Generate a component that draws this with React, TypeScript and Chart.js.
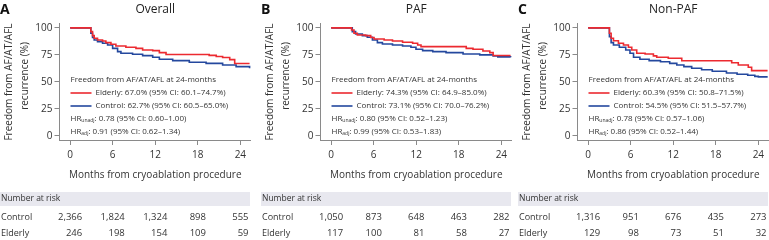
import React, { useEffect, useRef } from 'react';
import { Chart, registerables } from 'chart.js';

Chart.register(...registerables);

// ---------- data ----------
const panelLetters = ['A', 'B', 'C'];
const panelTitles = ['Overall', 'PAF', 'Non-PAF'];
const xTicks = [0, 6, 12, 18, 24];
const yTicks = [0, 25, 50, 75, 100];

// Overall
const overallElderlyT = [0, 2.7, 2.92, 3.16, 3.39, 3.86, 4.57, 5.04, 5.75, 6.45, 7.86, 9.28, 10.22, 11.64, 12.58, 13.52, 19.6, 20.6, 21.5, 22.5, 23.2, 25.3];
const overallElderlyS = [100, 100, 96.5, 92.8, 90.3, 88.8, 87.8, 86.3, 84.8, 83.2, 82, 81, 79.5, 78.9, 77, 75.3, 74.5, 73.5, 72.5, 70.5, 67.0, 67.0];
const overallControlT = [0, 2.7, 2.92, 3.16, 3.39, 3.86, 4.57, 5.28, 5.99, 6.69, 7.16, 8.8, 10.22, 11.64, 12.58, 14.46, 16.8, 19.17, 21.5, 23.4, 25.3];
const overallControlS = [100, 100, 95, 91, 88.8, 87.2, 85.7, 84.1, 81, 78, 76.4, 75.5, 74.2, 72.7, 70.9, 69.6, 68.1, 67.1, 65.6, 64, 62.5];

// PAF
const pafElderlyT = [0, 2.51, 2.88, 3.22, 3.69, 4.87, 5.58, 6.05, 7.47, 8.65, 10.07, 11.49, 12.2, 12.67, 19.05, 20.0, 21.4, 22.37, 22.84, 25.3];
const pafElderlyS = [100, 100, 98, 95, 93.4, 92.8, 91, 89.7, 88.8, 87.8, 86.6, 85.7, 84.1, 82.6, 81, 80.1, 78.6, 77, 74.3, 74.3];
const pafControlT = [0, 2.51, 2.98, 3.45, 4.4, 5.1, 5.82, 6.52, 7.23, 8.65, 10.07, 11.25, 11.96, 12.9, 14.33, 16.2, 18.6, 20.95, 22.84, 23.5, 25.3];
const pafControlS = [100, 100, 96.5, 94.3, 92.8, 91.3, 88.8, 86.3, 85, 84.1, 83.2, 82, 80.1, 78.9, 78, 77, 75.8, 74.9, 74, 73.1, 72.7];

// Non-PAF
const nonPafElderlyT = [0, 2.77, 3.0, 3.24, 3.57, 4.27, 4.98, 5.68, 6.15, 6.85, 8.03, 9.2, 9.67, 11.3, 13.2, 20.24, 21.17, 22.58, 23.05, 25.3];
const nonPafElderlyS = [100, 100, 95, 90.3, 88.1, 85.7, 84.1, 82, 79.5, 76.4, 75.8, 74, 72.7, 71.8, 69.5, 67.7, 65.6, 63.4, 60.3, 60.3];
const nonPafControlT = [0, 2.77, 3.0, 3.24, 3.57, 4.4, 5.3, 5.9, 6.4, 7.3, 8.6, 10.2, 11.5, 12.5, 13.5, 14.6, 16, 17.5, 19.5, 21, 22.5, 23.5, 24, 25.2];
const nonPafControlS = [100, 100, 91.9, 86.3, 84.1, 82, 79.5, 76.4, 72.7, 70.9, 69.6, 68.6, 67.1, 65.5, 64.0, 62.5, 61.2, 59.8, 58.2, 57.0, 56.0, 55.0, 54.5, 53.8];

const elderlyT = [overallElderlyT, pafElderlyT, nonPafElderlyT];
const elderlyS = [overallElderlyS, pafElderlyS, nonPafElderlyS];
const controlT = [overallControlT, pafControlT, nonPafControlT];
const controlS = [overallControlS, pafControlS, nonPafControlS];

const legendHeader = 'Freedom from AF/AT/AFL at 24-months';
const elderlyStat = ['67.0% (95% CI: 60.1–74.7%)', '74.3% (95% CI: 64.9–85.0%)', '60.3% (95% CI: 50.8–71.5%)'];
const controlStat = ['62.7% (95% CI: 60.5–65.0%)', '73.1% (95% CI: 70.0–76.2%)', '54.5% (95% CI: 51.5–57.7%)'];
const hrUnadj = ['0.78 (95% CI: 0.60–1.00)', '0.80 (95% CI: 0.52–1.23)', '0.78 (95% CI: 0.57–1.06)'];
const hrAdj = ['0.91 (95% CI: 0.62–1.34)', '0.99 (95% CI: 0.53–1.83)', '0.86 (95% CI: 0.52–1.44)'];

const controlRisk = [
  [2366, 1824, 1324, 898, 555],
  [1050, 873, 648, 463, 282],
  [1316, 951, 676, 435, 273],
];
const elderlyRisk = [
  [246, 198, 154, 109, 59],
  [117, 100, 81, 58, 27],
  [129, 98, 73, 51, 32],
];

// ---------- style ----------
const FONT = '"Open Sans", "DejaVu Sans", sans-serif';
const RED = '#ec2a30';
const BLUE = '#24489e';
const AXIS = '#8a8a8a';
const TEXT = '#333333';
const BAND = '#e8e8ef';
const PANEL_LEFT = [0, 261, 518];
const PANEL_W = 251;
const H = 240;

const fmt = (n: number) => n.toLocaleString('en-US');

function makeOverlay(idx: number) {
  return {
    id: 'overlay' + idx,
    afterDraw(chart: any) {
      const ctx: CanvasRenderingContext2D = chart.ctx;
      const ca = chart.chartArea;
      const xs = chart.scales.x;
      ctx.save();
      ctx.textBaseline = 'middle';

      // panel letter
      ctx.fillStyle = '#111';
      ctx.font = `bold 14px ${FONT}`;
      ctx.textAlign = 'left';
      ctx.fillText(panelLetters[idx], 0, 10);

      // title
      ctx.fillStyle = '#222';
      ctx.font = `12px ${FONT}`;
      ctx.textAlign = 'center';
      ctx.fillText(panelTitles[idx], (ca.left + ca.right) / 2, 10);

      // y axis title (two lines, rotated)
      ctx.fillStyle = TEXT;
      ctx.font = `10px ${FONT}`;
      ctx.save();
      ctx.translate(9, 82);
      ctx.rotate(-Math.PI / 2);
      ctx.fillText('Freedom from AF/AT/AFL', 0, 0);
      ctx.restore();
      ctx.save();
      ctx.translate(25, 76);
      ctx.rotate(-Math.PI / 2);
      ctx.fillText('recurrence (%)', 0, 0);
      ctx.restore();

      // x axis title
      ctx.fillText('Months from cryoablation procedure', (ca.left + ca.right) / 2, 175);

      // in-plot legend
      const x0 = ca.left + 11;
      ctx.font = `8px ${FONT}`;
      ctx.textAlign = 'left';
      ctx.fillStyle = TEXT;
      ctx.fillText(legendHeader, x0, 80);
      ctx.lineWidth = 1.6;
      ctx.strokeStyle = RED;
      ctx.beginPath(); ctx.moveTo(x0, 93); ctx.lineTo(x0 + 21, 93); ctx.stroke();
      ctx.strokeStyle = BLUE;
      ctx.beginPath(); ctx.moveTo(x0, 106); ctx.lineTo(x0 + 21, 106); ctx.stroke();
      ctx.fillText('Elderly: ' + elderlyStat[idx], x0 + 25, 93);
      ctx.fillText('Control: ' + controlStat[idx], x0 + 25, 106);
      const hr = (sub: string, rest: string, y: number) => {
        ctx.font = `8px ${FONT}`;
        ctx.fillText('HR', x0, y);
        let w = ctx.measureText('HR').width;
        ctx.font = `5px ${FONT}`;
        ctx.fillText(sub, x0 + w, y + 2);
        w += ctx.measureText(sub).width;
        ctx.font = `8px ${FONT}`;
        ctx.fillText(': ' + rest, x0 + w, y);
      };
      hr('unadj', hrUnadj[idx], 119);
      hr('adj', hrAdj[idx], 132);

      // number at risk table
      ctx.fillStyle = BAND;
      ctx.fillRect(0, 192, ca.right - 1, 14);
      ctx.fillStyle = TEXT;
      ctx.font = `8.5px ${FONT}`;
      ctx.textAlign = 'left';
      ctx.fillText('Number at risk', 1, 199);
      ctx.font = `9px ${FONT}`;
      ctx.fillText('Control', 1, 217);
      ctx.fillText('Elderly', 1, 233);
      ctx.font = `9.5px ${FONT}`;
      ctx.textAlign = 'right';
      xTicks.forEach((m, i) => {
        const px = xs.getPixelForValue(m);
        const c = fmt(controlRisk[idx][i]);
        const e = fmt(elderlyRisk[idx][i]);
        const right = px + ctx.measureText(c).width / 2;
        ctx.fillText(c, right, 217);
        ctx.fillText(e, right, 233);
      });
      ctx.restore();
    },
  };
}

function Panel({ idx }: { idx: number }) {
  const ref = useRef<HTMLCanvasElement>(null);
  useEffect(() => {
    const canvas = ref.current;
    if (!canvas) return;
    const toPts = (t: number[], s: number[]) => t.map((v, i) => ({ x: v, y: s[i] }));
    const chart = new Chart(canvas, {
      type: 'line',
      data: {
        datasets: [
          {
            label: 'Elderly',
            data: toPts(elderlyT[idx], elderlyS[idx]),
            borderColor: RED,
            backgroundColor: RED,
            borderWidth: 1.6,
            pointRadius: 0,
            stepped: true,
            fill: false,
          },
          {
            label: 'Control',
            data: toPts(controlT[idx], controlS[idx]),
            borderColor: BLUE,
            backgroundColor: BLUE,
            borderWidth: 1.6,
            pointRadius: 0,
            stepped: true,
            fill: false,
          },
        ],
      },
      options: {
        animation: false,
        responsive: false,
        maintainAspectRatio: false,
        events: [],
        layout: { padding: { left: 0, right: 0, top: 23, bottom: 0 } },
        plugins: { legend: { display: false }, tooltip: { enabled: false }, title: { display: false } },
        scales: {
          x: {
            type: 'linear',
            min: -1.5,
            max: 25.5,
            afterBuildTicks: (s: any) => { s.ticks = xTicks.map((v) => ({ value: v })); },
            afterFit: (s: any) => { s.height = 100; },
            grid: { drawOnChartArea: false, drawTicks: true, tickLength: 5, color: AXIS },
            border: { display: true, color: AXIS, width: 1 },
            ticks: { color: TEXT, font: { family: FONT, size: 10 }, padding: 4, maxRotation: 0 },
          },
          y: {
            type: 'linear',
            min: -4,
            max: 104.5,
            afterBuildTicks: (s: any) => { s.ticks = yTicks.map((v) => ({ value: v })); },
            afterFit: (s: any) => { s.width = 59.5; },
            grid: { drawOnChartArea: false, drawTicks: true, tickLength: 5, color: AXIS },
            border: { display: true, color: AXIS, width: 1 },
            ticks: { color: TEXT, font: { family: FONT, size: 10 }, padding: 2 },
          },
        },
      },
      plugins: [makeOverlay(idx)],
    } as any);
    return () => chart.destroy();
  }, [idx]);
  return (
    <canvas
      ref={ref}
      width={PANEL_W}
      height={H}
      style={{ position: 'absolute', left: PANEL_LEFT[idx], top: 0, width: PANEL_W, height: H, display: 'block' }}
    />
  );
}

export default function App() {
  return (
    <div style={{ position: 'absolute', left: 0, top: 0, width: 769, height: 240, background: '#fff', overflow: 'hidden' }}>
      <Panel idx={0} />
      <Panel idx={1} />
      <Panel idx={2} />
    </div>
  );
}
